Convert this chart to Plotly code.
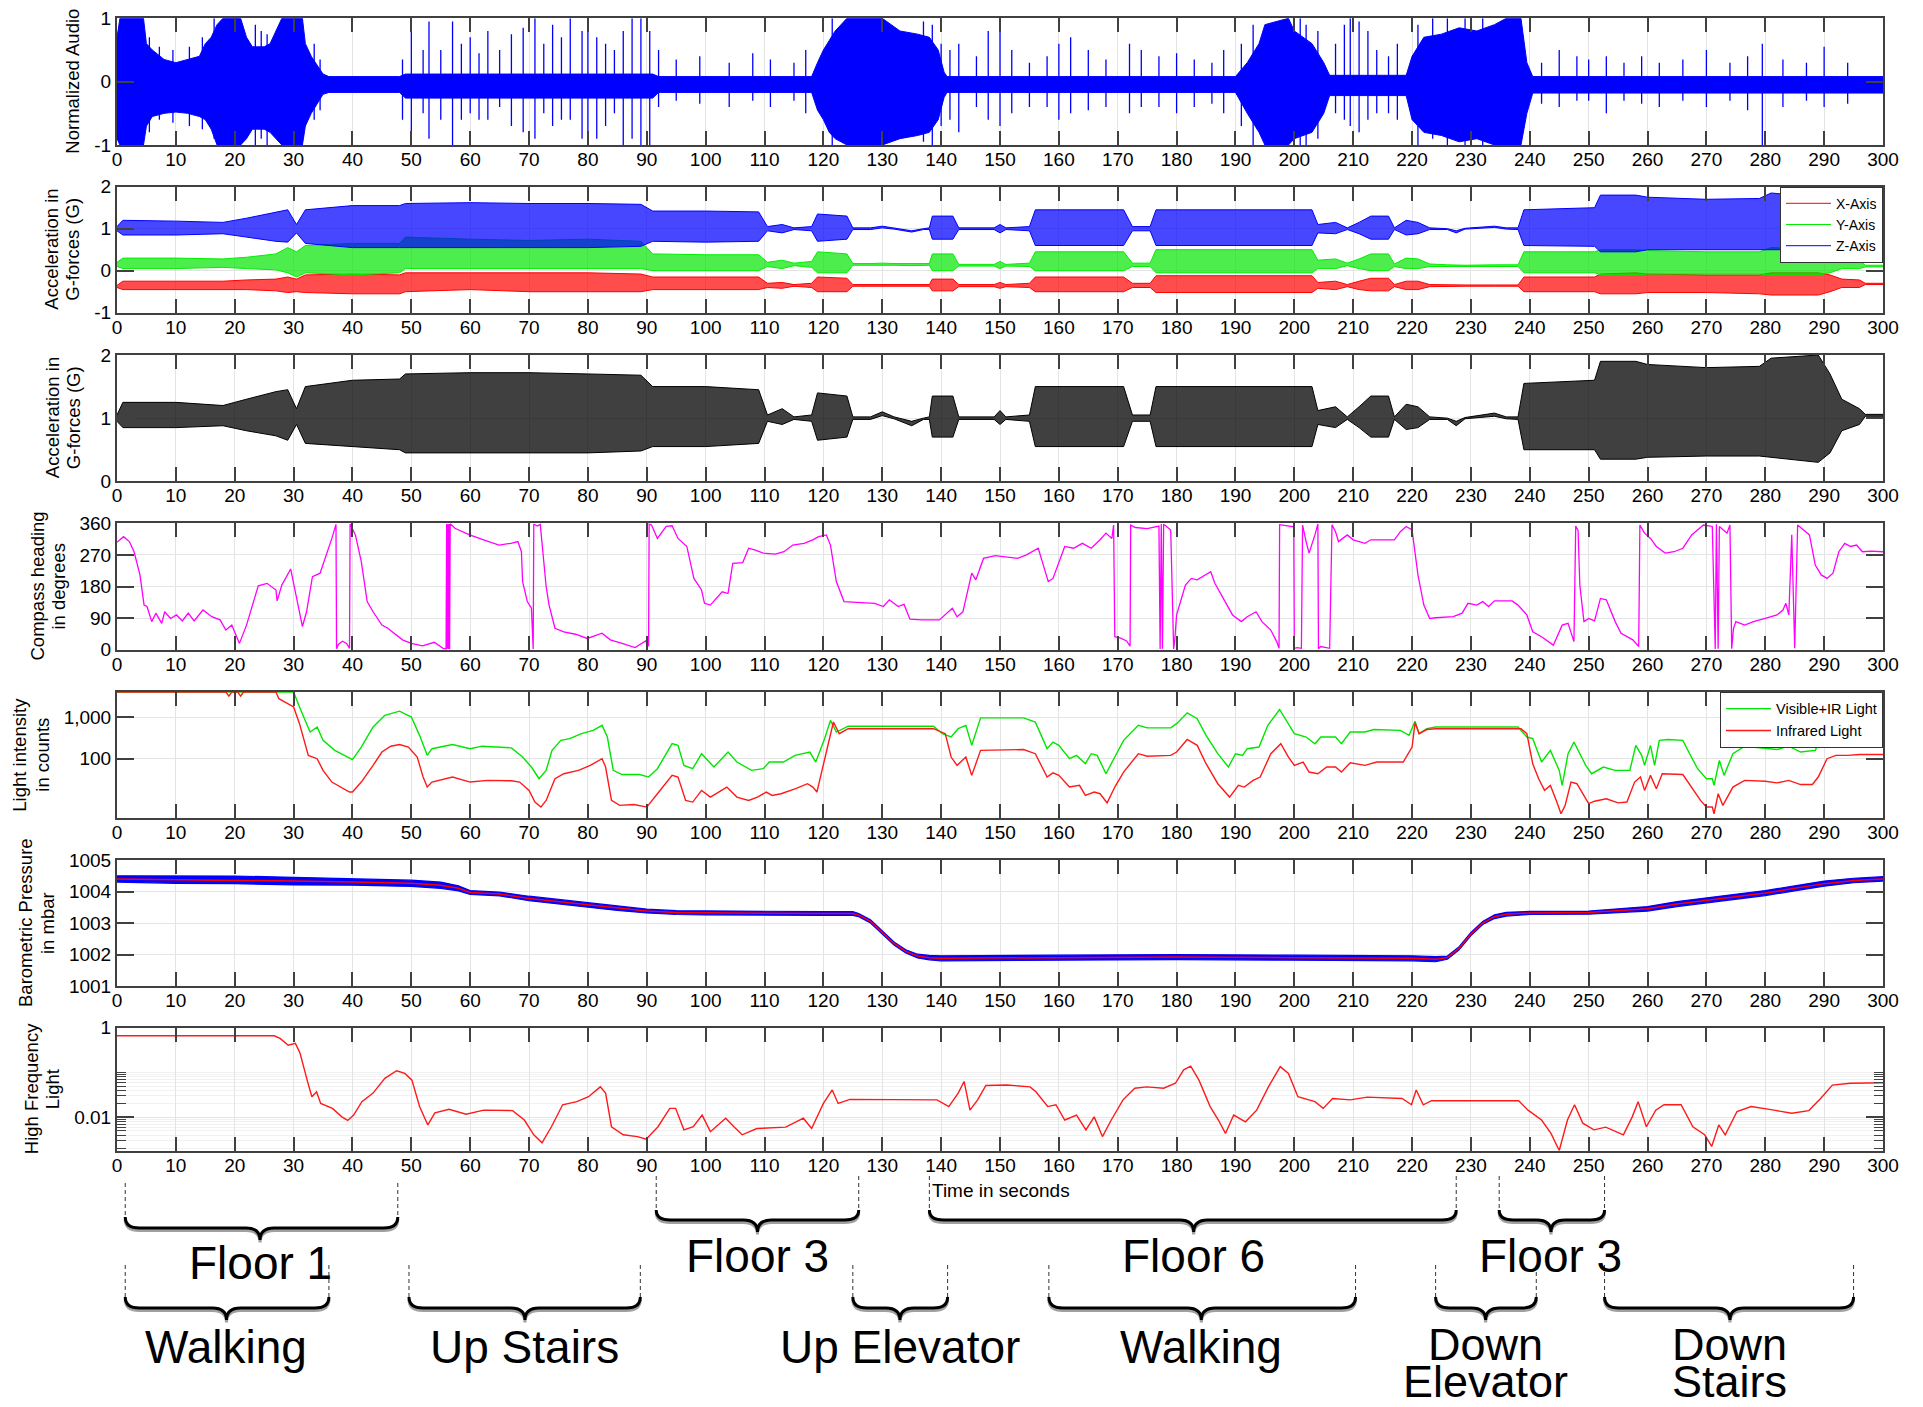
import plotly.graph_objects as go

W, H = 1923, 1407
FONT = "Liberation Sans, Arial, Helvetica, sans-serif"

# ---------------- Panel 1: normalized audio (envelope + spikes) ----------------
aud_t = [0, 0.5, 4.5, 5, 6, 8, 10, 12, 14, 15, 16, 17, 18, 21, 22, 23, 25, 26, 27, 28,
         31.5, 32, 33, 34, 35, 36, 48, 49, 91, 92, 118, 119, 120, 121, 122, 124, 130, 133, 136, 138,
         139.5, 140.5, 141, 190, 192, 194, 195, 199, 200, 203, 205, 206, 219, 220, 222, 225, 228, 231, 234, 236,
         238.5, 239.5, 240.5, 300]
aud_hi = [0.7, 1, 1, 0.6, 0.5, 0.35, 0.3, 0.35, 0.4, 0.6, 0.7, 0.9, 1, 1, 0.7, 0.55, 0.55, 0.6, 0.8, 1,
          1, 0.6, 0.4, 0.25, 0.12, 0.08, 0.08, 0.12, 0.12, 0.08, 0.08, 0.3, 0.5, 0.65, 0.8, 1, 1, 0.8, 0.75, 0.7,
          0.5, 0.15, 0.08, 0.08, 0.3, 0.6, 0.9, 1, 0.8, 0.6, 0.3, 0.1, 0.1, 0.4, 0.7, 0.75, 0.85, 0.8, 0.9, 1,
          1, 0.3, 0.08, 0.08]
aud_lo = [-0.9, -1, -1, -0.7, -0.55, -0.5, -0.48, -0.5, -0.55, -0.6, -0.75, -1, -1, -1, -0.9, -0.75, -0.75, -0.8, -0.9, -1,
          -1, -0.7, -0.5, -0.35, -0.2, -0.17, -0.17, -0.26, -0.26, -0.17, -0.17, -0.45, -0.6, -0.8, -0.9, -1, -1, -0.9, -0.85, -0.8,
          -0.6, -0.25, -0.17, -0.17, -0.5, -0.8, -1, -1, -0.9, -0.8, -0.5, -0.22, -0.22, -0.6, -0.8, -0.85, -0.95, -0.9, -1, -1,
          -1, -0.5, -0.18, -0.18]
spk_t = [5.5, 7.2, 9.5, 12.3, 14.5, 16.5, 23.5, 24.5, 25.5, 33.5,
         34.5, 48.5, 50, 52, 53, 55, 57, 58.5, 60, 61.5,
         63, 65, 67, 69, 71, 72.5, 74, 75.5, 77, 79,
         80, 81.5, 83, 84.5, 86, 87.5, 89, 90.5, 92, 95,
         99, 104, 108, 111, 115, 117, 121.5, 137, 138.5, 140,
         141.5, 143, 146, 148, 150, 152, 155, 158, 160, 162,
         165, 168, 172, 174, 177, 180, 183, 186, 188, 191,
         193, 201, 202, 204, 207, 208.5, 209.5, 211, 212.5, 214,
         216, 217.5, 221, 223.5, 226, 229, 232, 242, 245, 248,
         250, 253, 256, 259, 262, 266, 270, 274, 277, 279.5,
         283, 287, 290, 294]
spk_hi = [0.7, 0.55, 0.5, 0.55, 0.7, 1, 0.9, 0.8, 0.75, 0.6,
          0.35, 0.35, 0.9, 0.5, 0.95, 0.5, 0.95, 0.6, 0.7, 0.45,
          0.8, 0.5, 0.75, 0.85, 1, 0.6, 0.9, 0.7, 1, 0.8,
          0.9, 0.7, 0.6, 0.5, 0.8, 1, 1, 0.8, 0.5, 0.35,
          0.4, 0.3, 0.45, 0.35, 0.3, 0.5, 1, 0.95, 0.9, 0.6,
          0.5, 0.6, 0.4, 0.8, 0.9, 0.5, 0.3, 0.4, 0.6, 0.7,
          0.5, 0.35, 0.6, 0.5, 0.4, 0.45, 0.35, 0.3, 0.5, 0.6,
          0.9, 1, 0.9, 0.8, 0.6, 0.9, 1, 0.95, 0.8, 0.5,
          0.4, 0.6, 0.9, 1, 1, 1, 1, 0.3, 0.5, 0.4,
          0.35, 0.4, 0.3, 0.4, 0.3, 0.35, 0.5, 0.3, 0.4, 0.6,
          0.35, 0.3, 0.55, 0.3]
spk_lo = [-0.8, -0.6, -0.65, -0.7, -0.75, -0.9, -1, -0.9, -1, -0.6,
          -0.45, -0.6, -1, -0.5, -0.9, -0.6, -1, -0.6, -0.5, -0.6,
          -0.6, -0.4, -0.7, -0.8, -0.9, -0.5, -0.7, -0.6, -0.6, -0.9,
          -1, -0.9, -0.7, -0.5, -1, -0.9, -1, -1, -0.4, -0.3,
          -0.35, -0.4, -0.3, -0.4, -0.3, -0.5, -1, -0.95, -1, -0.7,
          -0.6, -0.8, -0.4, -0.6, -0.7, -0.5, -0.4, -0.4, -0.6, -0.5,
          -0.45, -0.4, -0.5, -0.4, -0.4, -0.5, -0.4, -0.35, -0.5, -0.7,
          -1, -1, -1, -0.9, -0.5, -0.6, -0.7, -0.8, -0.6, -0.5,
          -0.5, -0.6, -1, -0.9, -1, -1, -1, -0.35, -0.4, -0.3,
          -0.3, -0.5, -0.3, -0.35, -0.4, -0.3, -0.4, -0.3, -0.45, -1,
          -0.4, -0.3, -0.4, -0.35]

# ---------------- Panels 2/3: acceleration envelopes ----------------
acc_t = [0, 1, 10, 18, 22, 27, 29, 30.5, 32, 40,
         48, 49, 60, 70, 80, 89, 91, 100, 109, 110.5,
         113, 115, 118, 119, 124, 125, 128, 130, 132, 135,
         137, 138, 138.5, 142, 143, 149, 150, 151, 155, 156,
         171, 172.5, 175.5, 176.5, 203, 204, 207, 209, 211, 213,
         216, 217, 219, 221, 223, 226, 227.5, 229, 234, 236,
         238, 239, 251, 252, 258, 260, 270, 279, 281, 289,
         291, 293, 296, 297, 300]
z_hi = [1.05, 1.2, 1.18, 1.15, 1.25, 1.4, 1.45, 1.1, 1.45, 1.55,
        1.55, 1.6, 1.62, 1.6, 1.6, 1.58, 1.42, 1.42, 1.4, 1.05,
        1.1, 1.02, 1.05, 1.35, 1.3, 1.02, 1.02, 1.06, 1.01, 0.95,
        1.0, 1.02, 1.3, 1.3, 1.02, 1.02, 1.1, 1.02, 1.05, 1.45,
        1.45, 1.05, 1.05, 1.45, 1.45, 1.1, 1.15, 1.02, 1.15, 1.3,
        1.3, 1.02, 1.2, 1.15, 1.02, 1.0, 0.95, 1.01, 1.06, 1.02,
        1.02, 1.45, 1.5, 1.8, 1.8, 1.75, 1.7, 1.72, 1.85, 1.75,
        1.6, 1.25, 1.15, 1.05, 1.05]
z_lo = [0.95, 0.85, 0.85, 0.88, 0.8, 0.7, 0.68, 0.9, 0.65, 0.55,
        0.55, 0.55, 0.55, 0.55, 0.55, 0.58, 0.7, 0.68, 0.7, 0.95,
        0.9, 0.98, 0.95, 0.7, 0.75, 0.98, 0.98, 1.02, 0.99, 0.92,
        0.98, 0.98, 0.75, 0.75, 0.98, 0.98, 0.9, 0.98, 0.95, 0.6,
        0.6, 0.95, 0.95, 0.6, 0.6, 0.9, 0.88, 0.98, 0.88, 0.75,
        0.75, 0.98, 0.85, 0.88, 0.98, 0.98, 0.9, 0.99, 1.03, 0.99,
        0.98, 0.6, 0.58, 0.45, 0.45, 0.5, 0.5, 0.5, 0.5, 0.5,
        0.6, 0.85, 0.9, 1.02, 1.02]
y_hi = [0.2, 0.3, 0.3, 0.28, 0.32, 0.4, 0.55, 0.45, 0.6, 0.65,
        0.65, 0.8, 0.75, 0.72, 0.75, 0.7, 0.4, 0.38, 0.38, 0.2,
        0.25, 0.18, 0.22, 0.45, 0.4, 0.17, 0.17, 0.18, 0.17, 0.16,
        0.17, 0.17, 0.4, 0.4, 0.15, 0.15, 0.22, 0.15, 0.18, 0.45,
        0.45, 0.18, 0.18, 0.5, 0.5, 0.25, 0.28, 0.18, 0.28, 0.4,
        0.4, 0.16, 0.3, 0.28, 0.16, 0.14, 0.13, 0.13, 0.14, 0.14,
        0.14, 0.45, 0.45, 0.5, 0.5, 0.48, 0.45, 0.45, 0.55, 0.5,
        0.45, 0.3, 0.25, 0.13, 0.13]
y_lo = [0.1, 0.05, 0.05, 0.08, 0.05, 0.02, -0.05, -0.15, -0.05, -0.1,
        -0.05, 0.05, 0.05, 0.05, 0.05, 0.05, 0.0, 0.0, 0.0, 0.1,
        0.05, 0.12, 0.08, -0.05, -0.05, 0.13, 0.13, 0.14, 0.13, 0.12,
        0.13, 0.13, 0.0, 0.0, 0.11, 0.11, 0.05, 0.11, 0.1, 0.0,
        0.0, 0.1, 0.1, -0.05, -0.05, 0.05, 0.05, 0.12, 0.05, 0.0,
        0.0, 0.1, 0.05, 0.05, 0.1, 0.1, 0.09, 0.09, 0.1, 0.1,
        0.1, -0.05, -0.05, -0.1, -0.1, -0.08, -0.08, -0.08, -0.1, -0.1,
        -0.05, 0.05, 0.05, 0.09, 0.09]
x_hi = [-0.35, -0.25, -0.25, -0.25, -0.22, -0.2, -0.15, -0.2, -0.1, -0.08,
        -0.1, -0.05, -0.05, -0.05, -0.05, -0.08, -0.15, -0.15, -0.15, -0.3,
        -0.28, -0.33, -0.3, -0.15, -0.18, -0.33, -0.33, -0.33, -0.33, -0.33,
        -0.33, -0.33, -0.2, -0.2, -0.33, -0.33, -0.28, -0.33, -0.3, -0.15,
        -0.15, -0.3, -0.3, -0.12, -0.12, -0.28, -0.25, -0.33, -0.25, -0.18,
        -0.18, -0.33, -0.25, -0.25, -0.33, -0.34, -0.34, -0.34, -0.34, -0.34,
        -0.34, -0.15, -0.15, -0.08, -0.05, -0.08, -0.1, -0.1, -0.05, -0.05,
        -0.1, -0.2, -0.22, -0.3, -0.3]
x_lo = [-0.4, -0.45, -0.45, -0.45, -0.45, -0.48, -0.52, -0.5, -0.52, -0.55,
        -0.55, -0.5, -0.45, -0.5, -0.5, -0.5, -0.45, -0.45, -0.45, -0.4,
        -0.42, -0.37, -0.4, -0.5, -0.5, -0.37, -0.37, -0.37, -0.37, -0.37,
        -0.37, -0.37, -0.48, -0.48, -0.38, -0.38, -0.42, -0.38, -0.4, -0.5,
        -0.5, -0.4, -0.4, -0.52, -0.52, -0.42, -0.45, -0.38, -0.45, -0.48,
        -0.48, -0.38, -0.45, -0.45, -0.38, -0.37, -0.37, -0.37, -0.37, -0.37,
        -0.37, -0.5, -0.5, -0.55, -0.55, -0.52, -0.52, -0.55, -0.58, -0.58,
        -0.5, -0.4, -0.4, -0.33, -0.33]
m_hi = [1.05, 1.25, 1.25, 1.2, 1.3, 1.42, 1.45, 1.15, 1.5, 1.6,
        1.62, 1.7, 1.72, 1.72, 1.7, 1.68, 1.5, 1.5, 1.45, 1.05,
        1.15, 1.02, 1.05, 1.4, 1.35, 1.02, 1.02, 1.1, 1.02, 0.95,
        1.0, 1.02, 1.35, 1.35, 1.02, 1.02, 1.12, 1.02, 1.05, 1.5,
        1.5, 1.05, 1.05, 1.5, 1.5, 1.12, 1.18, 1.02, 1.18, 1.35,
        1.35, 1.02, 1.22, 1.18, 1.02, 1.0, 0.95, 1.01, 1.08, 1.02,
        1.02, 1.55, 1.6, 1.9, 1.9, 1.85, 1.8, 1.82, 1.95, 2.0,
        1.7, 1.3, 1.15, 1.06, 1.06]
m_lo = [0.95, 0.85, 0.85, 0.88, 0.8, 0.72, 0.65, 0.9, 0.6, 0.55,
        0.5, 0.45, 0.45, 0.45, 0.45, 0.48, 0.55, 0.55, 0.6, 0.95,
        0.9, 0.98, 0.95, 0.65, 0.7, 0.98, 0.98, 1.04, 0.99, 0.88,
        0.98, 0.98, 0.7, 0.7, 0.98, 0.98, 0.9, 0.98, 0.95, 0.55,
        0.55, 0.95, 0.95, 0.55, 0.55, 0.9, 0.85, 0.98, 0.85, 0.7,
        0.7, 0.98, 0.82, 0.85, 0.98, 0.98, 0.88, 0.99, 1.03, 0.99,
        0.98, 0.5, 0.5, 0.35, 0.35, 0.38, 0.4, 0.4, 0.38, 0.3,
        0.45, 0.8, 0.9, 1.03, 1.03]

# ---------------- Panel 4: compass heading ----------------
cmp_t = [0, 1.1, 2.1, 2.9, 3.9, 4.6, 5.1, 5.9, 6.6, 7.6,
         8.1, 9.1, 10.1, 11.1, 12.1, 13.1, 14.6, 16.1, 17.5, 18.5,
         19.5, 20.8, 22.0, 23.2, 24.0, 25.5, 27.0, 27.2, 28.0, 29.5,
         30.3, 31.5, 32.2, 33.2, 34.5, 35.5, 36.5, 37.2, 37.3, 37.6,
         38.3, 39.0, 39.5, 39.6, 40.0, 40.5, 41.5, 42.5, 43.5, 45.0,
         46.0, 47.0, 48.5, 50.0, 51.9, 53.9, 55.4, 55.9, 56.0, 56.1,
         56.2, 56.3, 56.4, 56.5, 56.6, 57.4, 59.9, 62.4, 64.9, 66.9,
         68.1, 68.7, 68.9, 69.7, 70.4, 70.7, 70.8, 71.4, 71.9, 72.9,
         73.4, 74.4, 75.9, 77.9, 79.9, 82.4, 83.8, 85.8, 88.0, 89.8,
         90.3, 90.4, 90.8, 91.8, 93.3, 94.3, 95.3, 96.8, 98.0, 99.3,
         99.8, 100.8, 101.8, 102.8, 103.8, 104.6, 106.3, 107.3, 108.3, 109.8,
         111.8, 113.3, 114.8, 116.7, 118.2, 119.2, 120.5, 121.2, 122.2, 123.5,
         125.7, 128.7, 130.2, 131.2, 132.7, 133.7, 134.7, 136.7, 139.7, 140.7,
         141.9, 142.7, 143.7, 145.2, 145.9, 147.2, 149.2, 153, 154.5, 156.5,
         157.5, 158.2, 159, 160, 161, 162.5, 164, 165.5, 167, 168,
         169, 169.3, 169.5, 170.5, 171.5, 172.1, 172.2, 173, 175, 177,
         177.2, 177.4, 177.6, 177.8, 178, 179, 179.5, 179.7, 180, 181.5,
         182.5, 183.5, 184.5, 185.8, 186.5, 188, 189.5, 191, 192, 193.5,
         194.5, 196, 197, 197.4, 197.5, 198, 199.5, 199.9, 200, 200.5,
         201.2, 201.4, 202, 202.5, 203.5, 204, 204.1, 204.5, 206, 206.4,
         207, 207.5, 209, 210, 212, 213, 215, 217, 218, 219,
         220, 221, 222, 223, 224, 227, 228.5, 229.5, 231, 232,
         233, 234, 237, 238, 239.5, 240.5, 242, 244, 245.5, 246.5,
         247.5, 247.8, 248.2, 248.5, 249.2, 250, 251, 252, 253, 254.5,
         255.5, 256.5, 257.5, 258.5, 258.7, 259.5, 260.5, 261.5, 263, 264.5,
         266, 267.5, 269.5, 271, 271.5, 271.7, 272, 272.2, 273.5, 274,
         274.3, 274.6, 275, 276.5, 278, 280, 282, 283, 283.5, 284,
         284.5, 285, 285.5, 286.5, 287.5, 288.5, 289.5, 290.5, 291.5, 292.5,
         293.5, 294.5, 295.5, 296.5, 298, 300]
cmp_deg = [306, 322, 308, 279, 213, 127, 123, 80, 104, 75,
           108, 89, 99, 82, 104, 82, 113, 94, 85, 56,
           70, 18, 70, 137, 182, 189, 170, 139, 184, 230,
           165, 66, 108, 208, 218, 265, 317, 357, 3, 15,
           24, 18, 4, 358, 345, 327, 251, 137, 108, 70,
           61, 47, 28, 18, 11, 21, 4, 2, 358, 3,
           357, 2, 358, 1, 359, 346, 327, 312, 298, 303,
           308, 279, 194, 137, 118, 2, 358, 352, 357, 180,
           127, 61, 51, 44, 32, 47, 28, 18, 6, 25,
           10, 358, 355, 317, 351, 353, 317, 294, 203, 170,
           132, 127, 146, 165, 160, 246, 248, 289, 284, 275,
           272, 279, 298, 303, 313, 322, 327, 298, 194, 137,
           135, 132, 123, 142, 123, 129, 87, 85, 85, 99,
           118, 94, 108, 218, 199, 260, 268, 260, 270, 289,
           232, 194, 203, 251, 294, 289, 303, 289, 313, 332,
           317, 355, 37, 33, 25, 10, 355, 348, 345, 352,
           2, 358, 3, 356, 355, 341, 2, 30, 99, 184,
           203, 199, 208, 222, 189, 142, 99, 80, 94, 108,
           80, 56, 23, 4, 356, 355, 351, 350, 4, 6,
           4, 355, 308, 275, 327, 358, 3, 9, 4, 356,
           336, 308, 327, 313, 303, 313, 313, 313, 336, 351,
           341, 213, 127, 89, 91, 94, 104, 132, 127, 137,
           123, 139, 139, 127, 99, 51, 37, 13, 70, 75,
           23, 352, 340, 184, 80, 89, 82, 146, 142, 80,
           47, 37, 28, 9, 355, 332, 317, 294, 275, 279,
           289, 327, 355, 351, 2, 357, 3, 351, 332, 355,
           3, 60, 80, 70, 80, 89, 99, 113, 132, 99,
           327, 4, 355, 341, 327, 241, 213, 203, 218, 279,
           303, 294, 298, 279, 281, 279]

# ---------------- Panel 5: light intensity (log10 of counts) ----------------
vis_t = [0, 30, 31, 32.8, 34, 35, 37, 38, 40, 41.5,
         43.5, 45.5, 48, 50, 51.4, 52.7, 53.5, 57, 60, 62,
         67, 68.9, 70.4, 71.7, 72.9, 73.9, 75.4, 76.9, 78.9, 80.9,
         82.4, 83.3, 84.3, 85.8, 88.8, 90.3, 91.8, 94.3, 95.3, 96.3,
         97.8, 99.3, 101.4, 103.8, 105.3, 107.8, 109.8, 110.8, 113.2, 115.2,
         117.7, 118.7, 120.2, 121.2, 122.2, 124.2, 138.7, 140.2, 141.7, 142.9,
         144.2, 145.2, 146.7, 154, 156, 157, 158, 159, 160, 161.8,
         163, 164.5, 165.5, 166.5, 168, 169.5, 171, 173.5, 175, 179,
         180, 181.8, 183.5, 185, 187, 188.8, 190, 191.2, 192, 194,
         195.5, 197.5, 199, 200, 202, 203.5, 204.5, 207, 208, 209.5,
         212, 213.5, 218, 219.5, 220.5, 221.2, 222.5, 224, 238, 239.5,
         240.5, 242, 243.5, 245, 245.5, 246.5, 247.5, 248.5, 249.5, 250.5,
         252.5, 254.5, 257, 258, 259, 259.5, 260.5, 261.2, 262, 263.5,
         266, 267, 268.5, 270, 271, 271.3, 272.2, 273, 274.5, 276.5,
         280, 282, 284, 286, 288.5, 289.5, 290, 291, 300]
vis_log = [3.6, 3.6, 3.24, 2.64, 2.76, 2.44, 2.2, 2.12, 1.98, 2.28,
           2.76, 3.04, 3.14, 3.0, 2.56, 2.08, 2.24, 2.34, 2.24, 2.3,
           2.26, 2.04, 1.8, 1.52, 1.72, 2.2, 2.44, 2.48, 2.6, 2.68,
           2.8, 2.52, 1.72, 1.62, 1.62, 1.56, 1.76, 2.36, 2.32, 1.84,
           1.76, 2.12, 1.8, 2.16, 1.92, 1.72, 1.76, 1.92, 1.92, 2.08,
           2.16, 1.92, 2.48, 2.92, 2.64, 2.78, 2.78, 2.6, 2.52, 2.72,
           2.8, 2.32, 2.98, 2.98, 2.88, 2.56, 2.24, 2.4, 2.32, 2.0,
           2.08, 1.88, 2.12, 2.08, 1.64, 2.04, 2.44, 2.8, 2.74, 2.74,
           2.84, 3.1, 2.96, 2.56, 2.12, 1.8, 2.12, 2.08, 2.24, 2.28,
           2.8, 3.18, 2.84, 2.6, 2.52, 2.36, 2.52, 2.52, 2.36, 2.64,
           2.64, 2.7, 2.68, 2.56, 2.9, 2.6, 2.72, 2.76, 2.76, 2.52,
           2.48, 1.92, 2.2, 1.72, 1.36, 2.12, 2.4, 2.12, 1.84, 1.64,
           1.8, 1.72, 1.72, 2.32, 2.08, 1.84, 2.32, 1.84, 2.44, 2.46,
           2.44, 2.16, 1.76, 1.52, 1.52, 1.36, 1.96, 1.6, 2.12, 2.3,
           2.24, 2.22, 2.3, 2.16, 2.2, 2.52, 2.92, 3.4, 3.4]
ir_t = [0, 18.5, 19, 19.5, 20.5, 21, 21.5, 27, 27.5, 29,
        30, 31, 32.5, 34, 35, 36.5, 38, 39.5, 40, 41.5,
        43.5, 45, 46.5, 48, 49.5, 51, 52, 52.7, 53.5, 57,
        60, 63, 67, 68.4, 70, 71, 72, 72.9, 74.4, 75.9,
        78.4, 80.4, 82.4, 83, 84, 85.4, 87.8, 90, 91.8, 94.3,
        95.3, 96.6, 97.8, 99.3, 100.8, 103.6, 105.3, 107.3, 108.8, 110.3,
        111.3, 112.8, 115.3, 117.3, 118.2, 118.9, 120.7, 121.7, 122.7, 124.2,
        138.7, 140.7, 141.7, 142.7, 144.2, 145.2, 146.7, 154, 156, 157,
        158, 159, 160, 161.8, 163.5, 164.5, 166, 167, 168.2, 169.5,
        171, 173.5, 175, 179, 180, 181.8, 183.5, 185, 187, 189,
        190.5, 191.5, 193, 194.2, 196, 197.7, 199, 200, 201.5, 202.5,
        204, 205.5, 207, 208, 209.5, 212, 214, 218.5, 220, 220.5,
        221.2, 222.5, 224, 238.5, 239.5, 240.5, 241.5, 242.5, 243.5, 244.5,
        245.3, 246, 247, 248, 249, 250, 251, 253, 255, 256.5,
        257.8, 258.8, 259.5, 260.5, 261.5, 262.5, 266, 267.5, 269, 270,
        271, 271.3, 272, 272.8, 274.5, 276.5, 280, 282, 284, 286,
        288, 289, 290.5, 292, 294, 296, 300]
ir_log = [3.6, 3.6, 3.5, 3.6, 3.6, 3.5, 3.6, 3.6, 3.44, 3.32,
          3.24, 2.84, 2.08, 2.0, 1.72, 1.44, 1.32, 1.2, 1.2, 1.44,
          1.84, 2.16, 2.3, 2.34, 2.28, 2.04, 1.56, 1.32, 1.44, 1.56,
          1.44, 1.48, 1.47, 1.44, 1.24, 0.96, 0.84, 1.0, 1.52, 1.64,
          1.72, 1.84, 2.0, 1.8, 1.0, 0.88, 0.9, 0.84, 1.16, 1.6,
          1.56, 1.0, 0.96, 1.24, 1.08, 1.32, 1.08, 1.0, 1.08, 1.2,
          1.12, 1.16, 1.28, 1.4, 1.32, 1.2, 2.28, 2.88, 2.6, 2.72,
          2.72, 2.6, 2.04, 1.84, 2.04, 1.6, 2.2, 2.22, 2.12, 1.84,
          1.56, 1.66, 1.6, 1.32, 1.36, 1.12, 1.2, 1.16, 0.94, 1.32,
          1.68, 2.12, 2.06, 2.08, 2.16, 2.46, 2.32, 1.88, 1.4, 1.08,
          1.36, 1.32, 1.48, 1.56, 2.12, 2.36, 2.04, 1.84, 1.92, 1.68,
          1.64, 1.8, 1.8, 1.68, 1.9, 1.84, 1.92, 1.92, 2.28, 2.86,
          2.6, 2.7, 2.72, 2.72, 2.6, 1.88, 1.52, 1.24, 1.36, 1.0,
          0.68, 0.88, 1.44, 1.4, 1.16, 0.92, 0.98, 1.04, 0.94, 0.96,
          1.44, 1.56, 1.24, 1.6, 1.28, 1.64, 1.62, 1.32, 1.0, 0.84,
          0.84, 0.68, 1.16, 0.88, 1.32, 1.48, 1.46, 1.42, 1.48, 1.38,
          1.38, 1.56, 2.0, 2.08, 2.08, 2.1, 2.1]

# ---------------- Panel 6: barometric pressure ----------------
pr_t = [0, 10, 20, 30, 40, 50, 55, 58, 60, 65,
        70, 75, 80, 85, 90, 95, 100, 110, 120, 125,
        126, 128, 130, 132, 134, 136, 138, 140, 160, 180,
        200, 220, 224, 226, 228, 230, 232, 234, 236, 240,
        250, 255, 260, 265, 270, 275, 280, 285, 290, 295, 300]
pr_smooth = [1004.40, 1004.38, 1004.37, 1004.33, 1004.30, 1004.26, 1004.20, 1004.10, 1003.97, 1003.92,
             1003.78, 1003.68, 1003.56, 1003.47, 1003.38, 1003.33, 1003.32, 1003.30, 1003.30, 1003.30,
             1003.25, 1003.05, 1002.70, 1002.35, 1002.10, 1001.95, 1001.90, 1001.88, 1001.90, 1001.92,
             1001.90, 1001.88, 1001.85, 1001.90, 1002.20, 1002.65, 1003.00, 1003.20, 1003.28, 1003.32,
             1003.33, 1003.38, 1003.45, 1003.60, 1003.72, 1003.85, 1003.95, 1004.10, 1004.25, 1004.35, 1004.40]
pr_noise = [0.1, 0.12, 0.12, 0.12, 0.1, 0.1, 0.1, 0.08, 0.06, 0.06,
            0.07, 0.07, 0.07, 0.07, 0.06, 0.06, 0.06, 0.06, 0.06, 0.06,
            0.05, 0.05, 0.05, 0.05, 0.05, 0.06, 0.07, 0.08, 0.08, 0.08,
            0.08, 0.08, 0.08, 0.05, 0.05, 0.05, 0.05, 0.06, 0.06, 0.05,
            0.05, 0.06, 0.07, 0.08, 0.08, 0.08, 0.08, 0.08, 0.08, 0.07, 0.07]

# ---------------- Panel 7: high frequency light (log10) ----------------
hf_t = [0, 26.7, 27.7, 29.1, 30.3, 31.1, 32.3, 33.1, 33.9, 34.6,
        36.6, 38.2, 39.2, 40.2, 41.6, 43.5, 45.5, 47.5, 48.9, 50.1,
        51.4, 52.8, 54, 56.4, 59.3, 62.3, 67.2, 69.2, 70.8, 72.2,
        73.8, 75.7, 78.1, 80.1, 82.1, 83, 84, 86, 88.4, 89.9,
        91.9, 93.9, 94.9, 96.3, 97.9, 99.4, 100.8, 103.4, 104.8, 106.2,
        108.7, 113.6, 116.6, 118, 120, 121.5, 122.5, 124.5, 139.3, 141.3,
        142.9, 143.9, 144.9, 146.2, 147.6, 151.2, 155.1, 156.1, 158.1, 159.5,
        161, 163, 164.6, 166, 167.4, 168.9, 170.9, 172.9, 174.9, 177.8,
        179.8, 181.2, 182.4, 183.8, 185.7, 187.1, 188.3, 189.7, 191.7, 193.6,
        195.6, 197.6, 199, 200.6, 203.5, 204.9, 206.5, 209.5, 212.4, 218.3,
        219.9, 220.7, 221.9, 223.3, 238.1, 239.7, 242, 243.6, 245, 246.4,
        247.6, 249, 250.9, 252.9, 255.9, 257.4, 258.4, 259.8, 261.4, 262.8,
        265.7, 267.7, 269.7, 270.9, 272.1, 273.2, 275.2, 277.6, 281.5, 284.5,
        287.4, 289.4, 291.4, 294.4, 300]
hf_log = [-0.18, -0.18, -0.24, -0.39, -0.35, -0.57, -1.17, -1.54, -1.43, -1.69,
          -1.8, -1.99, -2.07, -1.95, -1.65, -1.46, -1.13, -0.96, -1.02, -1.17,
          -1.76, -2.17, -1.9, -1.82, -1.93, -1.84, -1.85, -2.06, -2.39, -2.57,
          -2.21, -1.72, -1.65, -1.54, -1.32, -1.46, -2.21, -2.39, -2.43, -2.49,
          -2.21, -1.8, -1.8, -2.28, -2.21, -1.95, -2.32, -2.02, -2.21, -2.39,
          -2.25, -2.22, -2.02, -2.25, -1.69, -1.39, -1.69, -1.6, -1.61, -1.76,
          -1.46, -1.2, -1.84, -1.61, -1.29, -1.28, -1.32, -1.43, -1.76, -1.72,
          -2.06, -1.95, -2.28, -1.99, -2.43, -2.06, -1.61, -1.35, -1.32, -1.35,
          -1.24, -0.94, -0.86, -1.17, -1.76, -2.06, -2.36, -1.95, -2.1, -1.84,
          -1.32, -0.87, -1.02, -1.54, -1.65, -1.8, -1.58, -1.61, -1.55, -1.58,
          -1.72, -1.39, -1.72, -1.63, -1.63, -1.84, -2.06, -2.36, -2.74, -2.06,
          -1.72, -2.13, -2.28, -2.22, -2.39, -1.99, -1.65, -2.21, -1.84, -1.72,
          -1.72, -2.21, -2.39, -2.65, -2.17, -2.39, -1.87, -1.76, -1.84, -1.91,
          -1.85, -1.58, -1.28, -1.24, -1.23]

# ---------------- Bottom activity annotations (time spans in seconds) ----------------
floor_labels = ["Floor 1", "Floor 3", "Floor 6", "Floor 3"]
floor_start = [1.4, 91.6, 138.0, 234.8]
floor_end = [47.7, 126.0, 227.5, 252.7]
floor_mid = [24.3, 108.8, 182.9, 243.6]
act_labels = ["Walking", "Up Stairs", "Up Elevator", "Walking", "Down<br>Elevator", "Down<br>Stairs"]
act_start = [1.4, 49.6, 125.0, 158.3, 224.0, 252.7]
act_end = [36.0, 88.9, 141.1, 210.4, 241.1, 295.0]
act_mid = [18.6, 69.3, 133.0, 184.2, 232.5, 274.0]

# ======================================================================
X0, X1 = 117 / W, 1883 / W
TOPS = [18.3, 186.7, 355.0, 523.3, 691.7, 860.0, 1027.7]
BOTS = [145.0, 312.7, 481.3, 649.7, 817.7, 986.0, 1150.7]


def py(px):
    return 1 - px / H


def ids(i):
    s = '' if i == 1 else str(i)
    return 'x' + s, 'y' + s


fig = go.Figure()


def band(i, t, hi, lo, lc, fc, name=None, legend='legend', width=1):
    xa, ya = ids(i)
    fig.add_trace(go.Scatter(x=t, y=hi, xaxis=xa, yaxis=ya, mode='lines',
                             line=dict(color=lc, width=width), name=name or '',
                             showlegend=name is not None, legend=legend, hoverinfo='skip'))
    fig.add_trace(go.Scatter(x=t, y=lo, xaxis=xa, yaxis=ya, mode='lines',
                             line=dict(color=lc, width=width), fill='tonexty', fillcolor=fc,
                             showlegend=False, hoverinfo='skip'))


# Panel 1
band(1, aud_t, aud_hi, aud_lo, '#0000ff', '#0000ff')
sx, sy = [], []
for t, a, b in zip(spk_t, spk_hi, spk_lo):
    sx += [t, t, None]
    sy += [b, a, None]
fig.add_trace(go.Scatter(x=sx, y=sy, xaxis='x', yaxis='y', mode='lines',
                         line=dict(color='#0000ff', width=1.3), showlegend=False, hoverinfo='skip'))

# Panel 2
band(2, acc_t, x_hi, x_lo, '#ff0000', 'rgba(255,0,0,0.7)', name='X-Axis')
band(2, acc_t, y_hi, y_lo, '#00ee00', 'rgba(0,230,0,0.7)', name='Y-Axis')
band(2, acc_t, z_hi, z_lo, '#0000ff', 'rgba(0,0,255,0.72)', name='Z-Axis')

# Panel 3
band(3, acc_t, m_hi, m_lo, '#000000', 'rgba(0,0,0,0.75)')

# Panel 4
fig.add_trace(go.Scatter(x=cmp_t, y=cmp_deg, xaxis='x4', yaxis='y4', mode='lines',
                         line=dict(color='#ff00ff', width=1.3), showlegend=False, hoverinfo='skip'))

# Panel 5
fig.add_trace(go.Scatter(x=vis_t, y=[10 ** v for v in vis_log], xaxis='x5', yaxis='y5', mode='lines',
                         line=dict(color='#00e600', width=1.4), name='Visible+IR Light', legend='legend2'))
fig.add_trace(go.Scatter(x=ir_t, y=[10 ** v for v in ir_log], xaxis='x5', yaxis='y5', mode='lines',
                         line=dict(color='#ff1a1a', width=1.4), name='Infrared Light', legend='legend2'))

# Panel 6
band(6, pr_t, [s + n for s, n in zip(pr_smooth, pr_noise)], [s - n for s, n in zip(pr_smooth, pr_noise)],
     '#0000ff', '#0000ff', width=1.2)
fig.add_trace(go.Scatter(x=pr_t, y=pr_smooth, xaxis='x6', yaxis='y6', mode='lines',
                         line=dict(color='#ff0000', width=1.5), showlegend=False, hoverinfo='skip'))

# Panel 7
fig.add_trace(go.Scatter(x=hf_t, y=[10 ** v for v in hf_log], xaxis='x7', yaxis='y7', mode='lines',
                         line=dict(color='#ff1a1a', width=1.4), showlegend=False, hoverinfo='skip'))

# ---------------- axes ----------------
AXC = '#404040'
GRID = '#e4e4e4'
xticks = list(range(0, 301, 10))
ycfg = {
    1: dict(range=[-1, 1], tickvals=[-1, 0, 1], ticktext=['-1', '0', '1']),
    2: dict(range=[-1, 2], tickvals=[-1, 0, 1, 2], ticktext=['-1', '0', '1', '2']),
    3: dict(range=[0, 2], tickvals=[0, 1, 2], ticktext=['0', '1', '2']),
    4: dict(range=[0, 360], tickvals=[0, 90, 180, 270, 360], ticktext=['0', '90', '180', '270', '360']),
    5: dict(type='log', range=[0.585, 3.607], tickvals=[100, 1000], ticktext=['100', '1,000']),
    6: dict(range=[1001, 1005], tickvals=[1001, 1002, 1003, 1004, 1005],
            ticktext=['1001', '1002', '1003', '1004', '1005']),
    7: dict(type='log', range=[-2.745, 0], tickvals=[0.01, 1], ticktext=['0.01', '1'],
            minor=dict(tickvals=[0.002, 0.003, 0.004, 0.005, 0.006, 0.007, 0.008, 0.009,
                                 0.02, 0.03, 0.04, 0.05, 0.06, 0.07, 0.08, 0.09, 0.1],
                       ticks='inside', ticklen=9, tickwidth=1, tickcolor=AXC,
                       showgrid=True, gridcolor='#f1f1f1', gridwidth=1)),
}
layout_axes = {}
for i in range(1, 8):
    xa, ya = ids(i)
    xname = 'xaxis' + ('' if i == 1 else str(i))
    yname = 'yaxis' + ('' if i == 1 else str(i))
    layout_axes[xname] = dict(
        domain=[X0, X1], anchor=ya, range=[0, 300], tickmode='array', tickvals=xticks,
        ticktext=[str(v) for v in xticks], ticks='inside', ticklen=14, tickwidth=2, tickcolor=AXC,
        showline=True, linecolor=AXC, linewidth=2, mirror='allticks', showgrid=True, gridcolor=GRID,
        gridwidth=1, zeroline=False, tickfont=dict(size=19, color='black', family=FONT),
        ticklabelstandoff=-4, fixedrange=True, automargin=False)
    yd = dict(
        domain=[py(BOTS[i - 1]), py(TOPS[i - 1])], anchor=xa, tickmode='array', ticks='inside',
        ticklen=17, tickwidth=2, tickcolor=AXC, showline=True, linecolor=AXC, linewidth=2,
        mirror='allticks', showgrid=True, gridcolor=GRID, gridwidth=1, zeroline=False,
        tickfont=dict(size=19, color='black', family=FONT), fixedrange=True, automargin=False)
    yd.update(ycfg[i])
    layout_axes[yname] = yd

annotations = []
shapes = []

# y titles (rotated)
ytitles = {
    1: [("Normalized Audio", 73)],
    2: [("Acceleration in", 52), ("G-forces (G)", 73)],
    3: [("Acceleration in", 52), ("G-forces (G)", 73)],
    4: [("Compass heading", 37), ("in degrees", 58)],
    5: [("Light intensity", 20), ("in counts", 43)],
    6: [("Barometric Pressure", 25), ("in mbar", 47)],
    7: [("High Frequency", 31), ("Light", 52)],
}
for i, lines in ytitles.items():
    yc = py((TOPS[i - 1] + BOTS[i - 1]) / 2)
    for txt, xpx in lines:
        annotations.append(dict(text=txt, x=xpx / W, y=yc, xref='paper', yref='paper', showarrow=False,
                                textangle=-90, xanchor='center', yanchor='middle',
                                font=dict(size=18.5, color='black', family=FONT)))

# x title of bottom panel
annotations.append(dict(text="Time in seconds", x=1001 / W, y=py(1190), xref='paper', yref='paper',
                        showarrow=False, xanchor='center', yanchor='middle',
                        font=dict(size=19, color='black', family=FONT)))


def brace(a, b, m, ye, yl, yt, r=2.4):
    ye, yl, yt = py(ye), py(yl), py(yt)
    return (f"M {a},{ye} Q {a},{yl} {a + r},{yl} L {m - r},{yl} Q {m},{yl} {m},{yt} "
            f"Q {m},{yl} {m + r},{yl} L {b - r},{yl} Q {b},{yl} {b},{ye}")


def add_brace(a, b, m, dtop, ye, yl, yt):
    for x in (a, b):
        shapes.append(dict(type='line', xref='x7', yref='paper', x0=x, x1=x, y0=py(dtop), y1=py(ye),
                           line=dict(color='#333333', width=1, dash='4px,3px')))
    shapes.append(dict(type='path', xref='x7', yref='paper', path=brace(a, b, m, ye + 2.5, yl + 2.5, yt + 2.5),
                       line=dict(color='#a0a0a0', width=3)))
    shapes.append(dict(type='path', xref='x7', yref='paper', path=brace(a, b, m, ye, yl, yt),
                       line=dict(color='black', width=3)))


for k in range(4):
    if k == 0:
        add_brace(floor_start[k], floor_end[k], floor_mid[k], 1183, 1217, 1228, 1240)
        ly = 1263
    else:
        add_brace(floor_start[k], floor_end[k], floor_mid[k], 1176, 1210, 1220, 1232)
        ly = 1256
    annotations.append(dict(text=floor_labels[k], x=floor_mid[k], y=py(ly), xref='x7', yref='paper',
                            showarrow=False, xanchor='center', yanchor='middle',
                            font=dict(size=46, color='black', family=FONT)))

for k in range(6):
    add_brace(act_start[k], act_end[k], act_mid[k], 1265, 1297, 1308, 1320)
    parts = act_labels[k].split('<br>')
    if len(parts) == 1:
        annotations.append(dict(text=parts[0], x=act_mid[k], y=py(1347), xref='x7', yref='paper',
                                showarrow=False, xanchor='center', yanchor='middle',
                                font=dict(size=46, color='black', family=FONT)))
    else:
        for j, p in enumerate(parts):
            annotations.append(dict(text=p, x=act_mid[k], y=py(1344 + 37 * j), xref='x7', yref='paper',
                                    showarrow=False, xanchor='center', yanchor='middle',
                                    font=dict(size=45, color='black', family=FONT)))

fig.update_layout(
    width=W, height=H, autosize=False,
    margin=dict(l=0, r=0, t=0, b=0, pad=0, autoexpand=False),
    paper_bgcolor='white', plot_bgcolor='white',
    font=dict(family=FONT, color='black'),
    showlegend=True,
    legend=dict(x=X1, xanchor='right', y=py(TOPS[1]), yanchor='top', bgcolor='white',
                bordercolor='#333333', borderwidth=1, font=dict(size=14, family=FONT, color='black'),
                itemwidth=45, tracegroupgap=0, traceorder='normal'),
    legend2=dict(x=X1, xanchor='right', y=py(TOPS[4]), yanchor='top', bgcolor='white',
                 bordercolor='#333333', borderwidth=1, font=dict(size=14.5, family=FONT, color='black'),
                 itemwidth=45, tracegroupgap=0, traceorder='normal'),
    annotations=annotations,
    shapes=shapes,
    **layout_axes,
)

fig.write_html("out.html", config={'displayModeBar': False},
               post_script="document.body.style.margin='0px';document.body.style.overflow='hidden';")
